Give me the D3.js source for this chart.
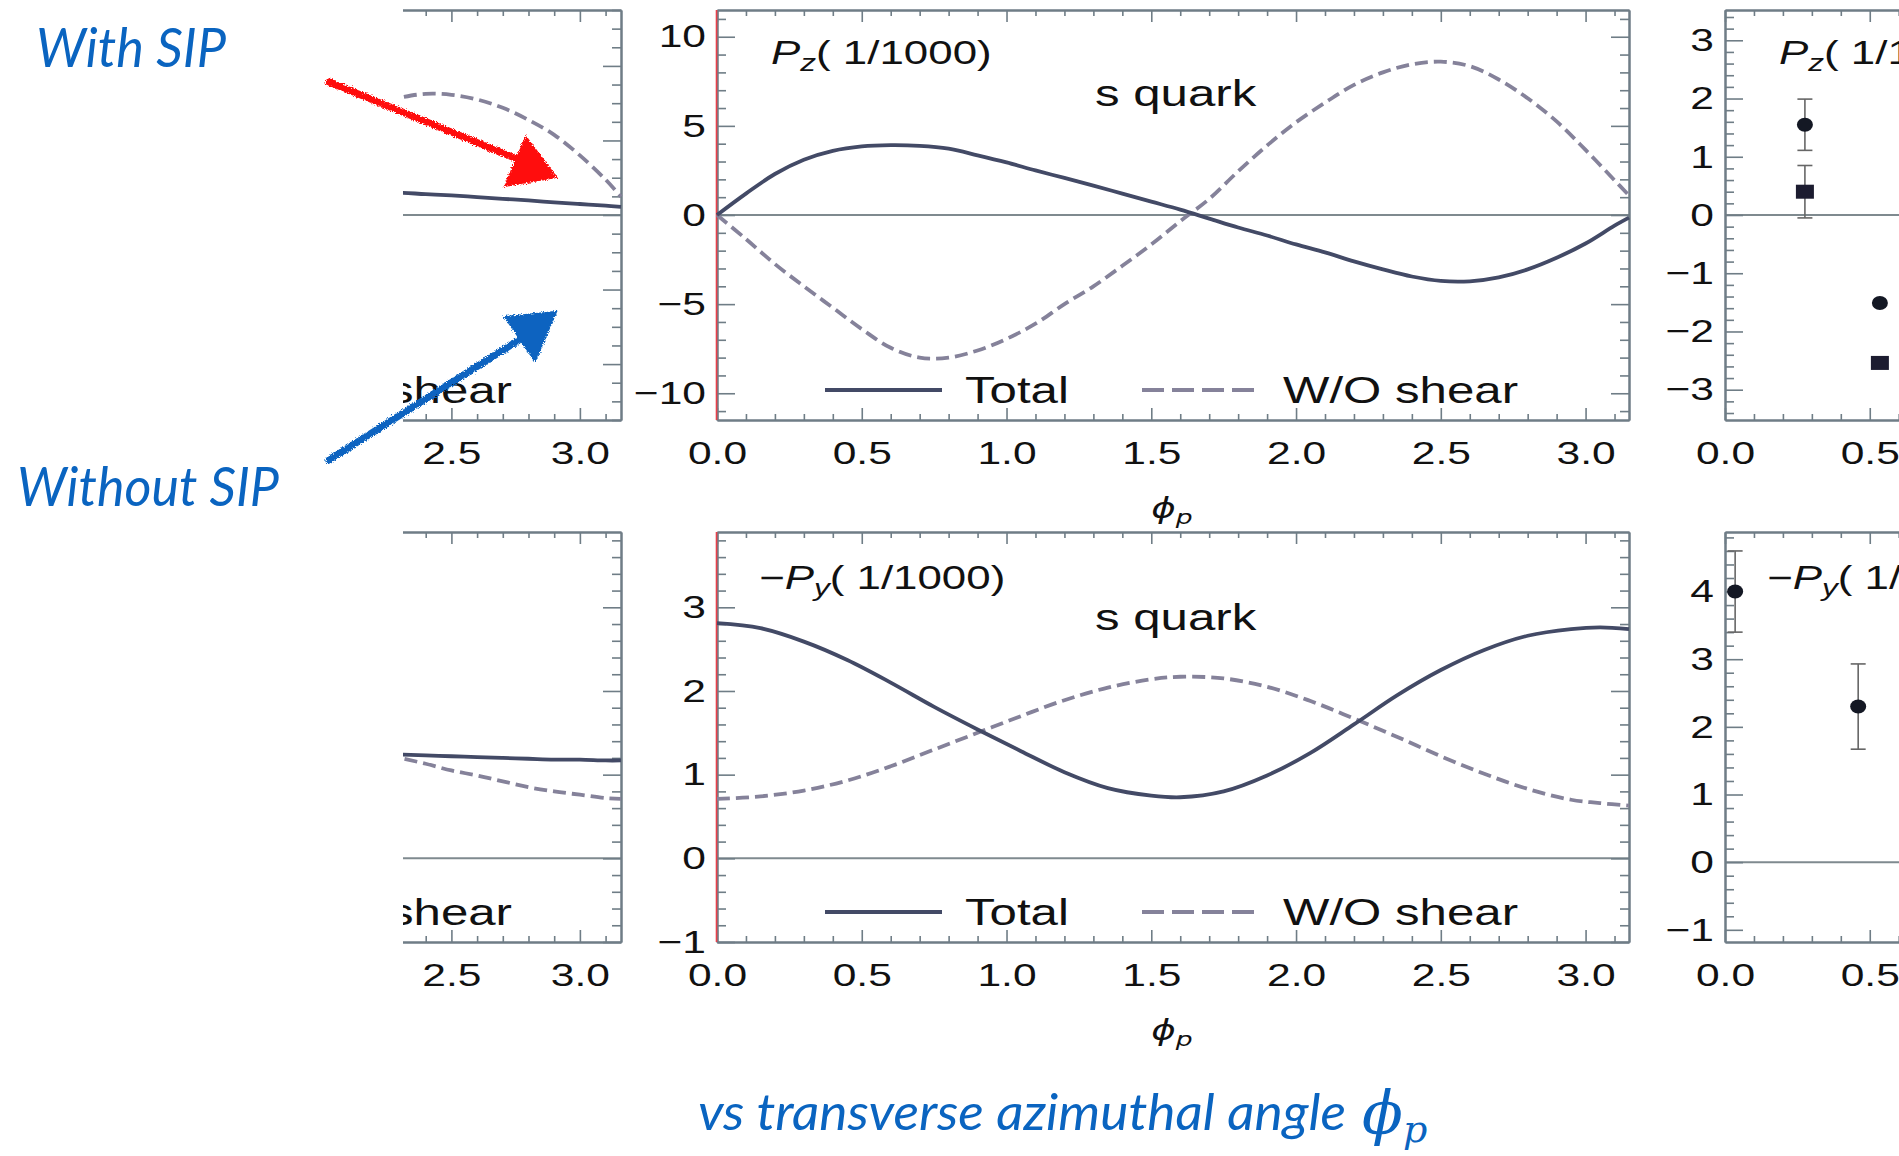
<!DOCTYPE html>
<html>
<head>
<meta charset="utf-8">
<script src="https://cdn.jsdelivr.net/npm/d3@7"></script>
<style>
  html, body { margin: 0; padding: 0; background: #fff; }
  svg { display: block; }
</style>
</head>
<body>
<svg id="chart" width="1899" height="1156"></svg>
<script>
// ---------------- data ----------------
// s quark, P_z (1/1000) vs phi_p
const PZ_PHI      = [0,0.1,0.2,0.3,0.4,0.5,0.6,0.7,0.8,0.9,1.0,1.1,1.2,1.3,1.4,1.5,1.6,1.7,1.8,1.9,2.0,2.1,2.2,2.3,2.4,2.5,2.6,2.7,2.8,2.9,3.0,3.1,3.15];
const PZ_TOTAL    = [0,1.2,2.3,3.1,3.6,3.85,3.92,3.88,3.72,3.35,2.95,2.5,2.08,1.65,1.2,0.75,0.3,-0.2,-0.7,-1.15,-1.65,-2.1,-2.6,-3.05,-3.45,-3.7,-3.72,-3.5,-3.05,-2.4,-1.6,-0.6,-0.15];
const PZ_NOSHEAR  = [0,-1.35,-2.75,-4.0,-5.2,-6.4,-7.45,-8.0,-8.0,-7.6,-6.95,-6.1,-5.0,-4.0,-2.85,-1.65,-0.35,0.9,2.45,3.9,5.2,6.3,7.3,8.0,8.45,8.6,8.35,7.6,6.55,5.25,3.65,1.95,1.1];

// s quark, -P_y (1/1000) vs phi_p
const PY_PHI      = [0,0.15,0.3,0.45,0.6,0.75,0.9,1.05,1.2,1.35,1.5,1.6,1.75,1.9,2.05,2.2,2.35,2.5,2.65,2.8,2.95,3.05,3.15];
const PY_TOTAL    = [2.81,2.75,2.59,2.37,2.10,1.81,1.54,1.28,1.03,0.84,0.75,0.73,0.80,0.99,1.26,1.60,1.95,2.25,2.49,2.66,2.74,2.76,2.74];
const PY_NOSHEAR  = [0.71,0.74,0.81,0.93,1.10,1.30,1.50,1.70,1.89,2.04,2.14,2.17,2.15,2.05,1.88,1.67,1.45,1.22,1.01,0.83,0.70,0.66,0.63];

// neighbouring panel (only its right end is shown)
const LEFT_PHI        = [2.1,2.2,2.3,2.4,2.5,2.6,2.7,2.8,2.9,3.0,3.1,3.16];
const LEFT_PZ_TOTAL   = [1.3,1.25,1.2,1.12,1.05,0.96,0.87,0.78,0.68,0.59,0.5,0.44];
const LEFT_PZ_NOSHEAR = [5.6,6.0,6.3,6.5,6.45,6.2,5.75,5.1,4.3,3.2,1.9,0.98];
const LEFT_PY_TOTAL   = [1.25,1.25,1.24,1.23,1.22,1.21,1.2,1.19,1.18,1.18,1.17,1.17];
const LEFT_PY_NOSHEAR = [1.32,1.26,1.2,1.13,1.05,0.99,0.92,0.85,0.8,0.76,0.72,0.71];

// measured points with errors (right-hand panels)
const PZ_PTS_PHI    = [0.276, 0.535];
const PZ_CIRCLE     = [1.55, -1.51];
const PZ_CIRCLE_ERR = [0.44, null];
const PZ_SQUARE     = [0.40, -2.54];
const PZ_SQUARE_ERR = [0.45, null];
const PY_PTS_PHI    = [0.035, 0.46];
const PY_CIRCLE     = [4.0, 2.3];
const PY_CIRCLE_ERR = [0.6, 0.63];

// legend / label text
const LEGEND = ["Total", "W/O shear"];
const QUARK = "s quark";

// ---------------- style & layout ----------------
const W = 1899, H = 1156;
const HS = 1.33;                      // horizontal stretch of the figure lettering
const FONT = "'Liberation Sans', Arial, sans-serif";
const INK = "#111";
const AXIS = "#6f7d86";
const C_TOTAL = "#434a66";
const C_NOSHEAR = "#85829a";
const BLUE = "#0a64c0";
const RED = "#ff0a0a";
const CLIP_X = 403;                   // left edge of the visible part of the neighbouring panel

const svg = d3.select("#chart");
svg.append("rect").attr("width", W).attr("height", H).attr("fill", "#fff");

const defs = svg.append("defs");
defs.append("clipPath").attr("id", "clipLeft")
  .append("rect").attr("x", CLIP_X).attr("y", 0).attr("width", 260).attr("height", H);
const crayon = defs.append("filter").attr("id", "crayon")
  .attr("x", "-20%").attr("y", "-20%").attr("width", "140%").attr("height", "140%");
crayon.append("feTurbulence").attr("type", "fractalNoise").attr("baseFrequency", 0.9)
  .attr("numOctaves", 2).attr("seed", 7).attr("result", "noise");
crayon.append("feDisplacementMap").attr("in", "SourceGraphic").attr("in2", "noise")
  .attr("scale", 5).attr("xChannelSelector", "R").attr("yChannelSelector", "G");

function stepTicks(domain, step) {
  const a = Math.ceil(domain[0] / step - 1e-9), b = Math.floor(domain[1] / step + 1e-9);
  return d3.range(a, b + 1).map(i => +(i * step).toFixed(6));
}
const isMult = (v, s) => Math.abs(v / s - Math.round(v / s)) < 1e-6;
const minusFmt = d => (d < 0 ? "\u2212" + Math.abs(d) : String(d));

function styleAxis(sel) {
  sel.selectAll(".domain").attr("stroke", AXIS).attr("stroke-width", 2);
  sel.selectAll(".tick line").attr("stroke", AXIS).attr("stroke-width", 1.6);
  sel.selectAll("text").attr("font-family", FONT).attr("font-size", 32).attr("fill", INK);
}

function buildPanel(p) {
  const x = d3.scaleLinear().domain(p.xDomain).range([p.left, p.right]);
  const y = d3.scaleLinear().domain(p.yDomain).range([p.bottom, p.top]);
  const vis = [p.clip ? CLIP_X : 0, W];
  const g = svg.append("g");
  if (p.clip) g.attr("clip-path", `url(#${p.clip})`);

  const xs = stepTicks(p.xDomain, 0.1);
  const xMaj = xs.filter(v => isMult(v, 0.5)), xMin = xs.filter(v => !isMult(v, 0.5));
  const ys = stepTicks(p.yDomain, p.yMinor);
  const yMaj = ys.filter(v => isMult(v, p.yMajor)), yMin = ys.filter(v => !isMult(v, p.yMajor));

  // zero line
  g.append("line").attr("x1", p.left).attr("x2", p.right)
    .attr("y1", y(0)).attr("y2", y(0))
    .attr("stroke", "#7f8a8f").attr("stroke-width", 2);

  // bottom
  g.append("g").attr("transform", `translate(0,${p.bottom})`)
    .call(d3.axisBottom(x).tickValues(xMin).tickSize(-6).tickSizeOuter(0).tickFormat(""))
    .call(styleAxis);
  const bx = g.append("g").attr("transform", `translate(0,${p.bottom})`)
    .call(d3.axisBottom(x).tickValues(xMaj).tickSize(-12).tickSizeOuter(0).tickFormat(d3.format(".1f")))
    .call(styleAxis);
  bx.selectAll("text").attr("y", 21).attr("transform", `scale(${HS},1)`);
  // labels that would fall outside the visible strip are not drawn
  bx.selectAll(".tick").filter(d => x(d) - 25 < vis[0] || x(d) + 25 > vis[1]).select("text").remove();
  // top
  g.append("g").attr("transform", `translate(0,${p.top})`)
    .call(d3.axisTop(x).tickValues(xMin).tickSize(-6).tickSizeOuter(0).tickFormat(""))
    .call(styleAxis);
  g.append("g").attr("transform", `translate(0,${p.top})`)
    .call(d3.axisTop(x).tickValues(xMaj).tickSize(-12).tickSizeOuter(0).tickFormat(""))
    .call(styleAxis);
  // left
  g.append("g").attr("transform", `translate(${p.left},0)`)
    .call(d3.axisLeft(y).tickValues(yMin).tickSize(-9).tickSizeOuter(0).tickFormat(""))
    .call(styleAxis);
  const ly = g.append("g").attr("transform", `translate(${p.left},0)`)
    .call(d3.axisLeft(y).tickValues(yMaj).tickSize(-18).tickSizeOuter(0).tickFormat(p.left > vis[0] ? minusFmt : ""))
    .call(styleAxis);
  ly.selectAll("text").attr("x", -11 / HS).attr("transform", `scale(${HS},1)`);
  if (p.left <= vis[0]) ly.selectAll("text").remove();
  // right
  g.append("g").attr("transform", `translate(${p.right},0)`)
    .call(d3.axisRight(y).tickValues(yMin).tickSize(-9).tickSizeOuter(0).tickFormat(""))
    .call(styleAxis);
  g.append("g").attr("transform", `translate(${p.right},0)`)
    .call(d3.axisRight(y).tickValues(yMaj).tickSize(-18).tickSizeOuter(0).tickFormat(""))
    .call(styleAxis);

  if (p.redLeft) {
    g.append("line").attr("x1", p.left - 0.5).attr("x2", p.left - 0.5)
      .attr("y1", p.top).attr("y2", p.bottom)
      .attr("stroke", "#e8404a").attr("stroke-width", 1.6);
  }
  return { g, x, y, p };
}

function drawCurve(panel, phis, vals, dashed) {
  const line = d3.line()
    .x((d, i) => panel.x(phis[i]))
    .y(d => panel.y(d))
    .curve(d3.curveCatmullRom.alpha(0.5));
  panel.g.append("path").attr("d", line(vals))
    .attr("fill", "none")
    .attr("stroke", dashed ? C_NOSHEAR : C_TOTAL)
    .attr("stroke-width", 3.8)
    .attr("stroke-dasharray", dashed ? "13,6" : null);
}

function label(g, x, y, parts, size, anchor) {
  const t = g.append("text")
    .attr("transform", `translate(${x},${y}) scale(${HS},1)`)
    .attr("font-family", FONT).attr("font-size", size).attr("fill", INK)
    .attr("text-anchor", anchor || "start");
  parts.forEach(q => {
    const s = t.append("tspan").text(q.t);
    if (q.i) s.attr("font-style", "italic");
    if (q.sub) s.attr("font-size", size * 0.72).attr("dy", size * 0.2);
    if (q.up) s.attr("dy", -size * 0.2);
  });
  return t;
}

function legend(panel) {
  const { g, p } = panel;
  const yl = p.bottom - 30, yb = p.bottom - 17;
  g.append("line").attr("x1", p.left + 108).attr("x2", p.left + 225).attr("y1", yl).attr("y2", yl)
    .attr("stroke", C_TOTAL).attr("stroke-width", 3.8);
  label(g, p.left + 248, yb, [{ t: LEGEND[0] }], 37);
  g.append("line").attr("x1", p.left + 425).attr("x2", p.left + 543).attr("y1", yl).attr("y2", yl)
    .attr("stroke", C_NOSHEAR).attr("stroke-width", 3.8).attr("stroke-dasharray", "22,8");
  label(g, p.left + 566, yb, [{ t: LEGEND[1] }], 37);
}

function points(panel, phis, vals, errs, shape) {
  const { g, x, y } = panel;
  phis.forEach((ph, i) => {
    const cx = x(ph), cy = y(vals[i]);
    if (errs[i] != null) {
      const y1 = y(vals[i] + errs[i]), y2 = y(vals[i] - errs[i]);
      g.append("line").attr("x1", cx).attr("x2", cx).attr("y1", y1).attr("y2", y2)
        .attr("stroke", "#666").attr("stroke-width", 1.6);
      [y1, y2].forEach(yy => g.append("line").attr("x1", cx - 7.5).attr("x2", cx + 7.5)
        .attr("y1", yy).attr("y2", yy).attr("stroke", "#666").attr("stroke-width", 1.6));
    }
    if (shape === "circle") {
      g.append("ellipse").attr("cx", cx).attr("cy", cy).attr("rx", 8).attr("ry", 7).attr("fill", "#141824");
    } else {
      g.append("rect").attr("x", cx - 9).attr("y", cy - 7).attr("width", 18).attr("height", 14).attr("fill", "#1c1c30");
    }
  });
}

// ---------------- panels ----------------
const TOP = [10, 420], BOT = [532, 942];
const topLeft  = buildPanel({ left: -191, right: 621,  top: TOP[0], bottom: TOP[1], xDomain: [0, 3.16], yDomain: [-11, 11],     yMajor: 4, yMinor: 1,   clip: "clipLeft" });
const topMid   = buildPanel({ left: 717,  right: 1629, top: TOP[0], bottom: TOP[1], xDomain: [0, 3.15], yDomain: [-11.5, 11.5], yMajor: 5, yMinor: 1,   redLeft: true });
const topRight = buildPanel({ left: 1725, right: 2637, top: TOP[0], bottom: TOP[1], xDomain: [0, 3.15], yDomain: [-3.52, 3.52], yMajor: 1, yMinor: 0.2 });
const botLeft  = buildPanel({ left: -191, right: 621,  top: BOT[0], bottom: BOT[1], xDomain: [0, 3.16], yDomain: [-1, 3.9],     yMajor: 1, yMinor: 0.2, clip: "clipLeft" });
const botMid   = buildPanel({ left: 717,  right: 1629, top: BOT[0], bottom: BOT[1], xDomain: [0, 3.15], yDomain: [-1, 3.9],     yMajor: 1, yMinor: 0.2, redLeft: true });
const botRight = buildPanel({ left: 1725, right: 2637, top: BOT[0], bottom: BOT[1], xDomain: [0, 3.15], yDomain: [-1.18, 4.88], yMajor: 1, yMinor: 0.2 });

// curves
drawCurve(topMid, PZ_PHI, PZ_NOSHEAR, true);
drawCurve(topMid, PZ_PHI, PZ_TOTAL, false);
drawCurve(botMid, PY_PHI, PY_NOSHEAR, true);
drawCurve(botMid, PY_PHI, PY_TOTAL, false);
drawCurve(topLeft, LEFT_PHI, LEFT_PZ_NOSHEAR, true);
drawCurve(topLeft, LEFT_PHI, LEFT_PZ_TOTAL, false);
drawCurve(botLeft, LEFT_PHI, LEFT_PY_NOSHEAR, true);
drawCurve(botLeft, LEFT_PHI, LEFT_PY_TOTAL, false);

// legends
legend(topMid);
legend(botMid);
[topLeft, botLeft].forEach(pn => label(pn.g, pn.p.right - 109, pn.p.bottom - 17, [{ t: LEGEND[1] }], 37, "end"));

// panel titles
const PZ_TITLE = [{ t: "P", i: 1 }, { t: "z", i: 1, sub: 1 }, { t: "( 1/1000)", up: 1 }];
const PY_TITLE = [{ t: "\u2212" }, { t: "P", i: 1 }, { t: "y", i: 1, sub: 1 }, { t: "( 1/1000)", up: 1 }];
[topMid, topRight].forEach(pn => label(pn.g, pn.p.left + 54, pn.p.top + 54, PZ_TITLE, 33));
[botMid, botRight].forEach(pn => label(pn.g, pn.p.left + 42, pn.p.top + 57, PY_TITLE, 33));
label(topMid.g, topMid.p.left + 378, topMid.p.top + 96, [{ t: QUARK }], 37);
label(botMid.g, botMid.p.left + 378, botMid.p.top + 98, [{ t: QUARK }], 37);

// x-axis titles
[topMid, botMid].forEach(pn => {
  const t = svg.append("text")
    .attr("transform", `translate(${(pn.p.left + pn.p.right) / 2 - 1},${pn.p.bottom + 98}) scale(${HS},1)`)
    .attr("font-family", "'DejaVu Sans', sans-serif").attr("font-size", 28).attr("fill", INK)
    .attr("text-anchor", "middle").attr("font-style", "italic");
  t.append("tspan").text("\u03D5");
  t.append("tspan").text("p").attr("font-size", 20).attr("dy", 6);
});

// measured points
points(topRight, PZ_PTS_PHI, PZ_CIRCLE, PZ_CIRCLE_ERR, "circle");
points(topRight, PZ_PTS_PHI, PZ_SQUARE, PZ_SQUARE_ERR, "square");
points(botRight, PY_PTS_PHI, PY_CIRCLE, PY_CIRCLE_ERR, "circle");

// ---------------- annotations ----------------
const NOTE_FONT = "Lato, 'Open Sans', sans-serif";
svg.append("text").attr("x", 36).attr("y", 67).text("With SIP")
  .attr("font-family", NOTE_FONT).attr("font-style", "italic").attr("font-size", 55)
  .attr("fill", BLUE).attr("textLength", 190).attr("lengthAdjust", "spacingAndGlyphs");
svg.append("text").attr("x", 17).attr("y", 506).text("Without SIP")
  .attr("font-family", NOTE_FONT).attr("font-style", "italic").attr("font-size", 55)
  .attr("fill", BLUE).attr("textLength", 262).attr("lengthAdjust", "spacingAndGlyphs");

const sub = svg.append("text").attr("x", 698).attr("y", 1130)
  .attr("font-family", NOTE_FONT).attr("font-style", "italic").attr("font-size", 50).attr("fill", BLUE);
sub.append("tspan").text("vs transverse azimuthal angle")
  .attr("textLength", 648).attr("lengthAdjust", "spacingAndGlyphs");
sub.append("tspan").attr("x", 1362).attr("dy", 4).text("\u03D5")
  .attr("font-family", "'DejaVu Serif', serif").attr("font-size", 60);
sub.append("tspan").attr("dy", 8).text("p")
  .attr("font-family", "'DejaVu Serif', serif").attr("font-size", 38);

// hand-drawn arrows
const ARROWS = [
  { color: RED,  shaft: [[329, 82], [527, 163]],  head: [[526, 137], [556, 177], [505, 186]] },
  { color: BLUE, shaft: [[329, 460], [530, 333]], head: [[505, 317], [556, 312], [535, 361]] }
];
ARROWS.forEach(a => {
  const ag = svg.append("g").attr("filter", "url(#crayon)");
  ag.append("line").attr("x1", a.shaft[0][0]).attr("y1", a.shaft[0][1])
    .attr("x2", a.shaft[1][0]).attr("y2", a.shaft[1][1])
    .attr("stroke", a.color).attr("stroke-width", 7).attr("stroke-linecap", "round");
  ag.append("polygon").attr("points", a.head.map(d => d.join(",")).join(" "))
    .attr("fill", a.color).attr("stroke", a.color).attr("stroke-width", 2);
});
</script>
</body>
</html>
